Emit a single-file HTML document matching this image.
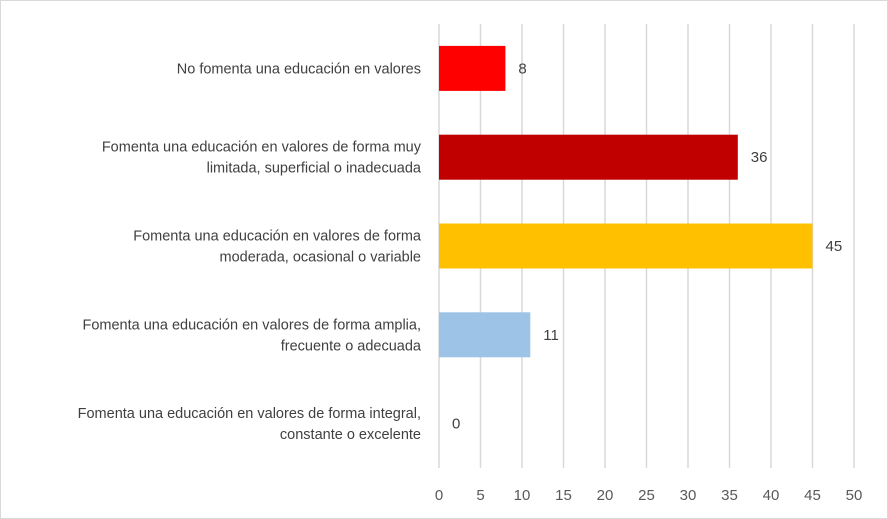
<!DOCTYPE html>
<html><head><meta charset="utf-8"><style>
html,body{margin:0;padding:0;background:#fff}
svg{display:block;font-family:"Liberation Sans",sans-serif}
</style></head><body>
<svg id="c" width="888" height="519">
<rect x="0.5" y="0.5" width="887" height="518" fill="#fff" stroke="#d9d9d9"/>
<g id="grid"></g><g id="bars"></g><g id="labels"></g>
</svg>
<script>
const categories=[["No fomenta una educación en valores"],["Fomenta una educación en valores de forma muy","limitada, superficial o inadecuada"],["Fomenta una educación en valores de forma","moderada, ocasional o variable"],["Fomenta una educación en valores de forma amplia,","frecuente o adecuada"],["Fomenta una educación en valores de forma integral,","constante o excelente"]];
const values=[8,36,45,11,0];
const colors=["#ff0000","#c00000","#ffc000","#9dc3e6","#5b9bd5"];
const ticks=[0,5,10,15,20,25,30,35,40,45,50];
const NS="http://www.w3.org/2000/svg";
const x0=439,x1=854,plotTop=24,plotBottom=468,step=(plotBottom-plotTop)/categories.length,bh=45;
const xs=v=>x0+(x1-x0)*v/50;
const yc=i=>plotTop+step*(i+0.5);
function mk(t,a,p){const e=document.createElementNS(NS,t);for(const k in a)e.setAttribute(k,a[k]);p.appendChild(e);return e;}
const g=document.getElementById('grid'),b=document.getElementById('bars'),l=document.getElementById('labels');
ticks.forEach(t=>{
 const ln=mk('line',{x1:xs(t),x2:xs(t),y1:plotTop,y2:plotBottom,stroke:'#d9d9d9','stroke-width':1.5},g);
 
 
 const tx=mk('text',{x:xs(t),y:500,'text-anchor':'middle','font-size':15,fill:'#595959'},g);
 tx.textContent=t;
 
 
});
values.forEach((v,i)=>{
 const r=mk('rect',{x:xs(0),y:yc(i)-bh/2,width:xs(v)-xs(0),height:bh,fill:colors[i]},b);
 
 
 const vt=mk('text',{x:xs(v)+13,y:yc(i)+5,'font-size':15,fill:'#404040'},b);
 vt.textContent=v;
 
 
 const lines=categories[i];
 const tx=mk('text',{'text-anchor':'end','font-size':14.5,fill:'#404040'},l);
 
 
 lines.forEach((s,j)=>{const ts=mk('tspan',{x:421,y:yc(i)+5+(j-(lines.length-1)/2)*21},tx);ts.textContent=s;});
});
</script>
</body></html>
